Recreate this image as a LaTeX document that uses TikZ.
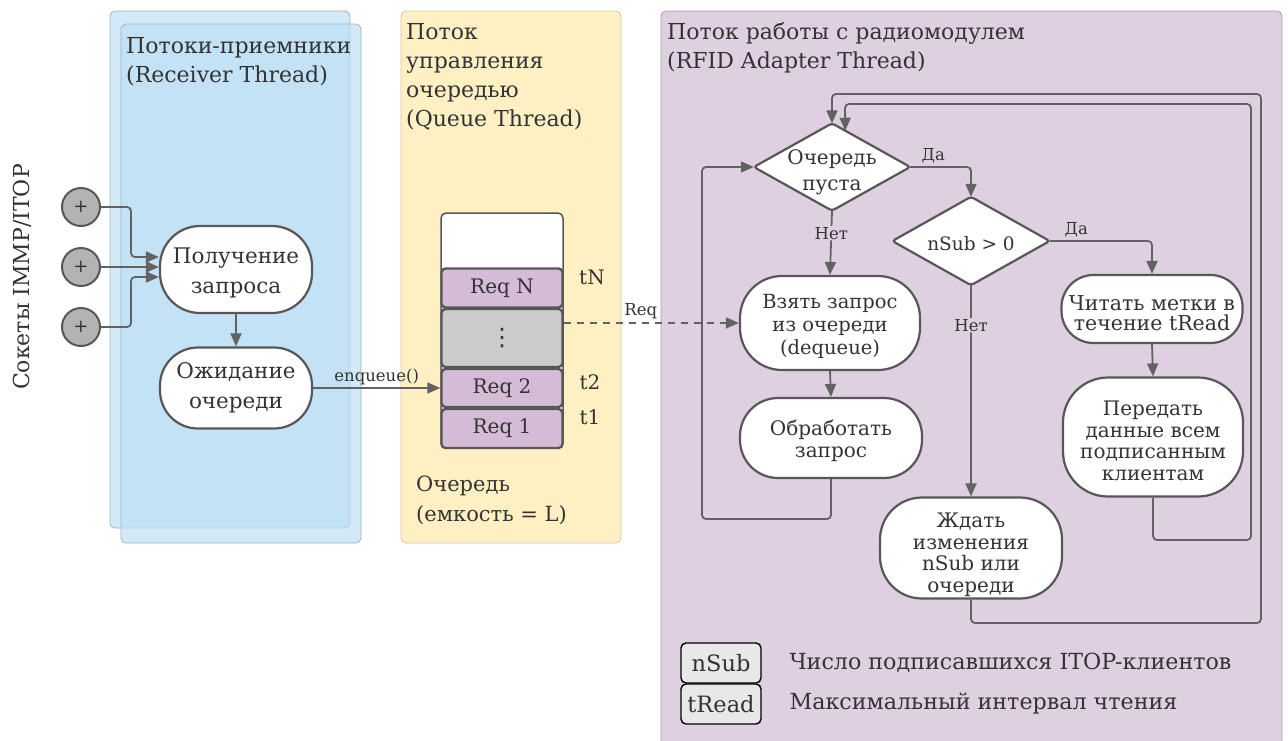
\documentclass[tikz,border=0pt]{standalone}
\usepackage{fontspec}
\setmainfont{DejaVu Serif}
\newfontfamily\glyphfont{DejaVu Sans}
\usetikzlibrary{arrows.meta,calc}

\definecolor{ink}{HTML}{333333}
\definecolor{wire}{HTML}{626262}
\definecolor{nodeline}{HTML}{575757}
\definecolor{bluefill}{HTML}{BDDFF5}
\definecolor{blueedge}{HTML}{9FB3C0}
\definecolor{yellowfill}{HTML}{FFF0C4}
\definecolor{yellowedge}{HTML}{D2C7A6}
\definecolor{purplefill}{HTML}{DFD0E1}
\definecolor{purpleedge}{HTML}{A9A1AA}
\definecolor{reqfill}{HTML}{D5BCD6}
\definecolor{dotsfill}{HTML}{CBCBCB}
\definecolor{plugfill}{HTML}{B3B3B3}
\definecolor{keyfill}{HTML}{E8E8E8}

\newcommand{\nodefont}{\fontsize{20}{21.5}\selectfont}
\newcommand{\widefont}{\fontsize{21.5}{30}\selectfont}
\newcommand{\titlefont}{\fontsize{22}{29}\selectfont}
\newcommand{\tagfont}{\fontsize{16.5}{18}\selectfont}
% invisible strut on a first line: lowers a centred text block by #1
\newcommand{\drop}[1]{\rule{0pt}{\dimexpr0.76em+#1*2\relax}}

\tikzset{
  panel/.style={rounded corners=5pt, line width=0.8pt},
  stepbox/.style={draw=nodeline, line width=2.2pt, fill=white, text=ink,
    align=center, inner sep=0pt, font=\nodefont},
  decision/.style={inner sep=0pt, text=ink, align=center, font=\nodefont},
  cell/.style={draw=nodeline, line width=2.4pt, rounded corners=4pt, fill=reqfill,
    text=ink, inner sep=0pt, minimum width=121pt, font=\fontsize{20}{22}\selectfont},
  plug/.style={circle, draw=nodeline, line width=2pt, fill=plugfill, minimum size=38pt,
    inner sep=0pt, text=ink, font=\fontsize{18}{20}\selectfont},
  conn/.style={draw=wire, line width=1.8pt, rounded corners=4pt,
    -{Triangle[length=13pt,width=11pt]}},
  tag/.style={text=ink, font=\tagfont, inner sep=1pt},
  title/.style={text=ink, font=\titlefont, align=left, anchor=north west, inner sep=0pt},
  keybox/.style={draw=black, line width=1.4pt, rounded corners=5pt, fill=keyfill,
    minimum width=80pt, minimum height=40pt, inner sep=0pt, text=ink,
    font=\fontsize{22.5}{24}\selectfont},
  mark label/.style={text=ink, font=\fontsize{20}{22}\selectfont},
  key text/.style={text=ink, anchor=west, font=\fontsize{22.2}{26}\selectfont},
}

\begin{document}
\begin{tikzpicture}[x=1pt,y=-1pt]
\useasboundingbox (0,0) rectangle (1288,740);
\fill[white] (0,0) rectangle (1288,740);

% thread panels
\draw[panel, fill=bluefill, fill opacity=0.66, draw=blueedge] (110,11) rectangle (350,528);
\draw[panel, fill=bluefill, fill opacity=0.66, draw=blueedge] (121,24) rectangle (361,543);
\draw[panel, fill=yellowfill, draw=yellowedge] (401,11) rectangle (621,543);
\draw[panel, fill=purplefill, draw=purpleedge] (661,11) rectangle (1282,760);

\node[title] (rxtitle) at (126,37) {Потоки-приемники\\(Receiver Thread)};
\node[title] (qtitle) at (406,23) {Поток\\управления\\очередью\\(Queue Thread)};
\node[title] (rftitle) at (667,22) {Поток работы с радиомодулем\\(RFID Adapter Thread)};

% sockets
\node[text=ink, rotate=90, font=\fontsize{22}{24}\selectfont] (socklabel) at (22,277) {Сокеты IMMP/ITOP};
\node[plug] (c1) at (81,207) {+};
\node[plug] (c2) at (81,267) {+};
\node[plug] (c3) at (81,327) {+};

% receiver thread steps
\node[stepbox, font=\widefont, minimum width=152pt, minimum height=87pt, rounded corners=40pt] (get) at (236,269.5) {\drop{3pt}Получение\\запроса};
\node[stepbox, font=\widefont, minimum width=152pt, minimum height=81pt, rounded corners=38pt] (wait) at (236,388) {Ожидание\\очереди};

\draw[conn] (c1.east) -- (131,207) |- ([yshift=12.5pt]get.west);
\draw[conn] (c2.east) -- (c2.east -| get.west);
\draw[conn] (c3.east) -- (131,327) |- ([yshift=-7.5pt]get.west);
\draw[conn] (get.south) -- (wait.north);

% queue
\draw[draw=nodeline, line width=1.5pt, fill=white, rounded corners=5pt] (441,213) rectangle (563,448);
\node[cell, minimum height=39pt] (rN) at (502,288) {Req N};
\node[cell, minimum height=58pt, fill=dotsfill] (dots) at (502,338) {\glyphfont\fontsize{24}{24}\selectfont ⋮};
\node[cell, minimum height=38pt] (r2) at (502,388) {Req 2};
\node[cell, minimum height=39pt] (r1) at (502,428.5) {Req 1};
\node[mark label] (tN) at (592,277) {tN};
\node[mark label] (t2) at (590,382) {t2};
\node[mark label] (t1) at (590,417) {t1};
\node[title, anchor=west, font=\fontsize{21}{30}\selectfont] (qcap) at (416,500) {Очередь\\(емкость = L)};

\draw[conn] (wait.east) -- node[tag, above=1pt, pos=0.5] {enqueue()} (r2.west);

% radio module thread
\node[decision, minimum width=156pt, minimum height=87pt] (d1) at (832,167) {};
\node[decision, minimum width=157pt, minimum height=88pt] (d2) at (971,241) {};
\draw[draw=nodeline, line width=2.2pt, fill=white, rounded corners=3pt]
  (d1.west) -- (d1.north) -- (d1.east) -- (d1.south) -- cycle;
\draw[draw=nodeline, line width=2.2pt, fill=white, rounded corners=3pt]
  (d2.west) -- (d2.north) -- (d2.east) -- (d2.south) -- cycle;
\node[decision, font=\fontsize{20}{26}\selectfont] (d1text) at ([yshift=-5pt]d1.center) {Очередь\\пуста};
\node[decision, font=\fontsize{18.5}{20}\selectfont] (d2text) at ([yshift=-3pt]d2.center) {nSub > 0};

\node[stepbox, font=\fontsize{19.5}{23}\selectfont, minimum width=180pt, minimum height=94pt, rounded corners=42pt] (take) at (830,323) {\drop{3pt}Взять запрос\\из очереди\\(dequeue)};
\node[stepbox, font=\fontsize{20}{22}\selectfont, minimum width=182pt, minimum height=80pt, rounded corners=38pt] (proc) at (831,438) {\drop{2.5pt}Обработать\\запрос};
\node[stepbox, minimum width=182pt, minimum height=101pt, rounded corners=42pt] (idle) at (971,548) {\drop{6.5pt}Ждать\\изменения\\nSub или\\очереди};
\node[stepbox, font=\fontsize{20.5}{20}\selectfont, minimum width=181pt, minimum height=68pt, rounded corners=32pt] (read) at (1152,309) {\drop{3.5pt}Читать метки в\\течение tRead};
\node[stepbox, minimum width=180pt, minimum height=119pt, rounded corners=45pt] (send) at (1153,437) {\drop{3.5pt}Передать\\данные всем\\подписанным\\клиентам};

\draw[conn] (d1.south) -- node[tag, fill=purplefill, pos=0.35] {Нет} (take.north);
\draw[conn] (d1.east) -| node[tag, above=2pt, pos=0.19] {Да} (d2.north);
\draw[conn] (d2.south) -- node[tag, fill=purplefill, pos=0.19] {Нет} (idle.north);
\draw[conn] (d2.east) -| node[tag, above=2pt, pos=0.13] {Да} (read.north);
\draw[conn] (read.south) -- (send.north);
\draw[conn] (take.south) -- (proc.north);
\draw[conn] (proc.south) |- (702,519) |- (d1.west);
\draw[conn] (send.south) |- (1251,540) |- (845,104) -- ($(d1.north)!0.17!(d1.east)$);
\draw[conn] (idle.south) |- (1261,623) |- (832,94) -- (d1.north);

\draw[conn, dashed, dash pattern=on 7pt off 6pt] (dots.east |- take.west) -- node[tag, above=2pt, pos=0.44] {Req} (take.west);

% legend
\node[keybox] (kn) at (721,663) {nSub};
\node[keybox] (kt) at (721,704) {tRead};
\node[key text] (kntext) at (786,663) {Число подписавшихся ITOP-клиентов};
\node[key text] (kttext) at (786,704) {Максимальный интервал чтения};
\end{tikzpicture}
\end{document}
